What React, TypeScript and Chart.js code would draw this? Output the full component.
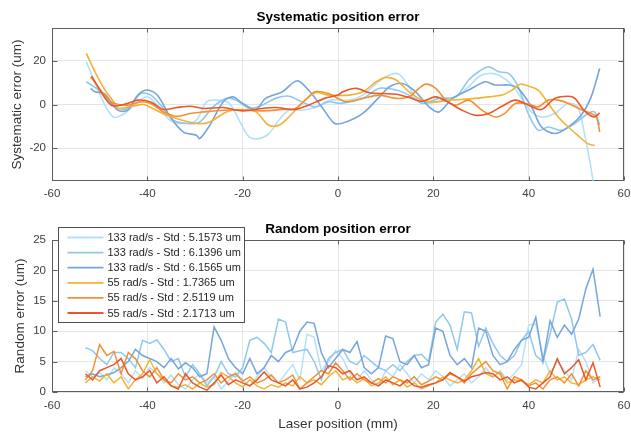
import React, { useEffect, useRef } from 'react';
import { Chart, registerables } from 'chart.js';
Chart.register(...registerables);

const FONT = "'Liberation Sans', Arial, Helvetica, sans-serif";

const seriesLabels = [
  '133 rad/s - Std : 5.1573 um',
  '133 rad/s - Std : 6.1396 um',
  '133 rad/s - Std : 6.1565 um',
  '55 rad/s - Std : 1.7365 um',
  '55 rad/s - Std : 2.5119 um',
  '55 rad/s - Std : 2.1713 um',
];
const seriesColors = ['#b3e1f7', '#90c8ec', '#76a5dc', '#f4b234', '#f39035', '#e9582a'];

const xTicks = [-60, -40, -20, 0, 20, 40, 60];
const sysYTicks = [-20, 0, 20];
const randYTicks = [0, 5, 10, 15, 20, 25];

// ---- Systematic position error ----
const sysX1 = [-52.8,-49.7,-47.2,-44.8,-42,-40,-37.9,-35.2,-32.4,-29.7,-27.6,-25.5,-22.8,-20,-18.6,-16.6,-14.5,-12.4,-10.3,-7.6,-4.8,-1.4,2.4,5.2,8,10.8,12.8,14.9,17,19.1,21.9,24.7,27.4,29.5,31.6,33.7,36.5,38.5,40.6,42.7,45.5,48.3,50.3,51.7,52.8,53.5];
const sysY1 = [19.6,3.5,-5.7,-4.1,1.2,3.5,-0.3,-7.2,-8.7,-7.2,1.2,2,0.5,-10.3,-14.9,-15.6,-13.3,-7.2,-2.6,-2.6,-1.4,2,2,4.3,9.6,13.5,13.9,8.1,1.2,0.5,2,3.5,8.1,12.7,14.2,13.5,8.9,2.8,-3.4,-5.7,-4.1,0.5,-1.1,-13.3,-25.6,-34.8];

const sysX2 = [-52.8,-49.7,-46.9,-44.1,-41.4,-39.3,-37.2,-34.5,-31.7,-29,-26.2,-23.4,-21.4,-18.6,-15.9,-13.1,-10.3,-7.6,-4.8,-2.1,0.7,5.2,8.7,12.2,14.9,17.7,21.2,24.7,27.4,29.5,31.6,33.7,35.8,37.8,39.9,42,44.1,46.9,49.7,52.4,53.8,54.9];
const sysY2 = [10.4,5.8,-1.1,-1.8,5,4.3,-0.3,-7.2,-8.7,-8,-1.1,2.8,2,-1.8,-0.3,2.8,3.8,1.2,-1.1,1.2,0.5,2.8,7.4,6.6,4.3,0.5,2.8,3.5,11.2,15,17.3,15,14.2,8.1,-4.1,-11.8,-10.3,-11.8,-8.7,-4.1,-3.4,-9.5];

const sysX3 = [-51.9,-51,-49,-46.2,-44.1,-42,-40,-37.9,-35.2,-32.4,-29.7,-29,-26.9,-24.1,-22.1,-20,-17.2,-15.2,-11.7,-8.6,-6.2,-3.4,-0.7,1.7,5.2,8.7,10.8,13.5,16.3,19.1,21.2,24,27.4,30.9,33,35.8,37.8,40.6,42.7,45.5,48.3,51,53.1,54.9];
const sysY3 = [7.4,5.8,5,-2.6,-2.6,4.3,6.6,4.3,-5.7,-12.6,-14.1,-15.6,-9.5,1.2,3.5,0.5,-2.3,2.8,5.8,10.9,6.6,-1.1,-8.7,-8,-4.1,3.5,8.1,9.6,5.8,-1.1,-3.4,2.8,6.6,10.4,8.9,8.9,7.4,-1.1,-10.3,-13.3,-10.3,-4.9,3.5,16.5];

const sysX4 = [-52.8,-51,-49,-47,-46.2,-42,-40.7,-35.9,-29.7,-26.9,-23.4,-20,-17.2,-14.5,-12.4,-10.3,-7.6,-4.8,-2.1,2.4,5.2,8,10,12.2,14.9,17.7,20.5,23.3,26,28.8,31.6,34.4,36.5,38.2,40,42,44.1,46.2,48.3,50.3,52.4,53.8];
const sysY4 = [23.4,15,7,1,-1.8,-0.3,0,-4.9,-8.7,-8,-3.4,-2.3,-3.4,-9.5,-9.5,-5.7,0.5,5.4,4.3,4.3,5.8,10.4,12.4,11.2,5.8,2,1.2,2,2.3,2.8,3.5,4.3,6.6,9.3,8.4,6.6,0.5,-5.7,-10.3,-14.1,-17.9,-18.7];

const sysX5 = [-51.9,-47.6,-44.1,-41.4,-39.3,-36.6,-33.8,-31,-28.3,-24.1,-20,-15.9,-11.7,-9,-6.9,-4.8,-2,0,1.7,5.2,8.7,12.2,14.9,17,18.4,20.5,22.6,24.7,27.4,30.2,33,35,37.2,40,42,44.1,46.2,48.3,51,53.1,54.2,54.9];
const sysY5 = [12.7,1.2,-0.3,1.2,0.5,-3.4,-5.4,-4.1,-3.4,-2.6,-2.6,-2.9,-2.3,-1.8,2,5.8,5,2.8,1.2,2.8,4.3,2.8,3.5,7.4,9.3,7.4,2,-0.3,2,-2.6,-5.7,-4.1,0.5,0.2,-1.1,2,2,0.5,-2.3,-4.1,-5.7,-12.6];

const sysX6 = [-51.7,-47.6,-44.1,-42,-39.3,-36.6,-33.8,-31,-28.3,-24.1,-20,-15.9,-13.1,-9,-6.2,-2.8,0,1,3.8,6.6,9.4,12.2,14.9,17.7,20.5,23.3,26,28.8,31.6,34.4,37.2,40,42.7,45.5,48.3,49.7,51.7,53.8,54.9];
const sysY6 = [13,-0.3,0.5,2,1.2,-2.3,-1.4,-0.8,-1.8,-1.4,-2.9,-1.8,-1.4,-2.3,-0.3,2.8,4.3,5.8,7.4,5.4,5,4.7,3.2,1.5,3.5,0.8,-2.6,-4.9,-4.1,-0.8,2,-0.3,-2.3,2.8,3.8,2.8,-2.9,-5.7,-3.8];

// ---- Random position error ----
const randX = [-53,-51.5,-50,-48.5,-47,-45.5,-44,-42.5,-41,-39.5,-38,-36.5,-35,-33.5,-32,-30.5,-29,-27.5,-26,-24.5,-23,-21.5,-20,-18.5,-17,-15.5,-14,-12.5,-11,-9.5,-8,-6.5,-5,-3.5,-2,-0.5,1,2.5,4,5.5,7,8.5,10,11.5,13,14.5,16,17.5,19,20.5,22,23.5,25,26.5,28,29.5,31,32.5,34,35.5,37,38.5,40,41.5,43,44.5,46,47.5,49,50.5,52,53.5,55];
const randY1 = [3.5,2.5,3.2,2,4,3,1.5,3.5,2.2,4,3,1.5,2.8,1.2,0.5,2,3,1.5,2.5,0.5,1.8,3.2,2,1,2.5,4,2.5,1.5,3,4.5,2,9.5,9,3.5,5,6.8,5.5,3,2,3.5,2,1,3.5,2.5,4.5,3,1.5,3,2,3.5,2.5,1,2,3,1.5,2.5,4,2.5,3.5,2,3,4.5,11,11.2,6,3,5,3.5,2,7,5,1.5,2.5];
const randY2 = [7.3,6.8,5.5,4.5,6.5,6.5,5.5,4,8.5,8,8.6,7,5,5.5,2.5,4.5,3,1,2.5,5,3,2.5,4,8.5,9,8,6.5,12,11.5,6.5,6.8,7,5,2,5.5,6.5,7,5,4.5,6,5,4,3.5,4.5,3.5,5,6,6.2,5,11.5,12.8,11,7,13.2,13,7.5,10.5,8,6,5,6,8.5,10,6,5,9.5,14.8,15.3,12,6,6.5,7.8,5.2];
const randY3 = [2.5,3,2.5,2.8,3.2,4,5,7,6,5.5,5,4,5.5,3.8,4.8,4,2.5,3,10.7,8.5,5.5,4,3,5.5,3,4,6,5,6.5,7,10,11.5,11.3,6.5,4,5.5,7,6.5,8.3,4,3,4,9.2,8.8,5,4.5,6,4,4.5,10.5,10,6,4.5,5.5,4,10.5,10,6,4.5,5,7,8.5,9,12.3,5,11.7,9,11,9.5,12,17,20.2,12.4];
const randY4 = [1.5,2.5,1.8,3,1.5,2.5,0.5,2,3,5.3,3,2,1,0.8,1.2,0.5,1.5,0.8,1.2,3.2,2.5,1.5,0.8,2,1,0.5,1.2,0.8,1.5,1,2.5,1.5,2,1.2,2.5,3.5,2,2.5,1.5,2.2,1,1.5,2.5,1.2,2,0.8,1.5,0.5,1,1.5,2.5,2,1.5,2,3.5,5.5,3,2.5,3.3,1.5,2,1.8,1.2,2,1.5,3.5,2,2.5,1.5,1.2,2,2.5,2];
const randY5 = [2,3.5,7.8,6,6.7,3,6.5,5.5,3.5,2.5,4,2,1.5,3,2,2.5,1.5,2,3,1.5,2.5,3,1.8,2.5,1.5,2,2.8,1.5,2,2.8,0.5,1.5,2.5,3.5,3,4.8,3.5,2,3,2,1.5,2.2,1.5,2.5,2,1.5,2.5,1.2,1.8,2.5,2,3,2.5,1.5,3,4,5,3.5,3,0.5,2.5,2,1,1.5,0.5,2,2.5,1.5,3,1,3.5,2,2.5];
const randY6 = [3,2,3.5,4,4.5,5.5,3,2,2.5,3.5,1.5,2.5,1,0.5,3,1.5,0.8,0.3,1.5,2.8,1.2,2,1.5,1,2,3.3,2,1.5,1,2,0.5,0.8,1.5,2.5,4.3,4,3,3.5,2,2.5,1.5,1,2,1.5,1,2,1,0.8,1.2,1.5,2,3.2,2.5,1.8,2.5,2.8,3.2,3,2,2.5,1.5,2,0.8,0.5,1.5,2.5,5.5,3,4,5.3,2,4.8,0.8];

const sysSeries = [
  [sysX1, sysY1], [sysX2, sysY2], [sysX3, sysY3],
  [sysX4, sysY4], [sysX5, sysY5], [sysX6, sysY6],
];
const randSeries = [randY1, randY2, randY3, randY4, randY5, randY6];

const boxPlugin = {
  id: 'matlabBox',
  beforeDatasetsDraw(chart: any) {
    const { ctx, chartArea: a, scales } = chart;
    ctx.save();
    ctx.strokeStyle = '#5f5f5f';
    ctx.lineWidth = 1;
    const l = Math.round(a.left) + 0.5;
    const r = Math.round(a.right) - 0.5;
    const t = Math.round(a.top) + 0.5;
    const b = Math.round(a.bottom) - 0.5;
    ctx.strokeRect(l, t, r - l, b - t);
    ctx.beginPath();
    scales.x.ticks.forEach((tk: any) => {
      const px = Math.round(scales.x.getPixelForValue(tk.value)) + 0.5;
      ctx.moveTo(px, b); ctx.lineTo(px, b - 4);
      ctx.moveTo(px, t); ctx.lineTo(px, t + 4);
    });
    scales.y.ticks.forEach((tk: any) => {
      const py = Math.round(scales.y.getPixelForValue(tk.value)) + 0.5;
      ctx.moveTo(l, py); ctx.lineTo(l + 5, py);
      ctx.moveTo(r, py); ctx.lineTo(r - 5, py);
    });
    ctx.stroke();
    ctx.restore();
  },
};

// Title centred over the plot area, as MATLAB does
const axesTitlePlugin = {
  id: 'axesTitle',
  afterDraw(chart: any, _args: any, opts: any) {
    const { ctx, chartArea: a } = chart;
    ctx.save();
    ctx.font = `bold 13.5px ${FONT}`;
    ctx.fillStyle = '#000000';
    ctx.textAlign = 'center';
    ctx.textBaseline = 'middle';
    ctx.fillText(opts.text, (a.left + a.right) / 2, a.top - opts.gap);
    ctx.restore();
  },
};

const legendPlugin = {
  id: 'matlabLegend',
  afterDraw(chart: any) {
    const { ctx, chartArea: a } = chart;
    const bx = Math.round(a.left) + 6.5;
    const by = Math.round(a.top) - 12.5;
    const bw = 186;
    const bh = 95;
    ctx.save();
    ctx.fillStyle = '#ffffff';
    ctx.fillRect(bx, by, bw, bh);
    ctx.strokeStyle = '#505050';
    ctx.lineWidth = 1;
    ctx.strokeRect(bx, by, bw, bh);
    ctx.font = `11px ${FONT}`;
    ctx.textBaseline = 'middle';
    ctx.textAlign = 'left';
    chart.data.datasets.forEach((ds: any, i: number) => {
      const y = by + 10 + i * 15.1;
      ctx.strokeStyle = ds.borderColor;
      ctx.lineWidth = 1.8;
      ctx.beginPath();
      ctx.moveTo(bx + 9, y);
      ctx.lineTo(bx + 45, y);
      ctx.stroke();
      ctx.fillStyle = '#262626';
      ctx.fillText(ds.label, bx + 49, y + 0.5);
    });
    ctx.restore();
  },
};

function commonOptions(opts: {
  title: string; titleGap: number; topPad: number; yTitle: string; yMin: number; yMax: number;
  yTicks: number[]; yTitlePad: number; xHeight: number; xTickPad: number; xTitle?: string;
}) {
  return {
    responsive: false,
    animation: false,
    maintainAspectRatio: false,
    layout: { padding: { left: 0, right: 7, top: opts.topPad, bottom: 0 } },
    plugins: {
      legend: { display: false },
      tooltip: { enabled: false },
      title: { display: false },
      axesTitle: { text: opts.title, gap: opts.titleGap },
    },
    scales: {
      x: {
        type: 'linear',
        min: -60,
        max: 60,
        afterBuildTicks: (s: any) => { s.ticks = xTicks.map((v) => ({ value: v })); },
        afterFit: (s: any) => {
          s.height = opts.xHeight;
          s.paddingLeft = 0;
          s.paddingRight = 0;
        },
        grid: { color: '#e6e6e6', drawTicks: false },
        border: { display: false },
        ticks: {
          color: '#404040',
          font: { family: FONT, size: 11.5 },
          padding: opts.xTickPad,
          maxRotation: 0,
          autoSkip: false,
        },
        title: opts.xTitle
          ? {
              display: true,
              text: opts.xTitle,
              color: '#333333',
              font: { family: FONT, size: 13.5 },
              padding: { top: 0, bottom: 1 },
            }
          : { display: false },
      },
      y: {
        type: 'linear',
        min: opts.yMin,
        max: opts.yMax,
        afterBuildTicks: (s: any) => { s.ticks = opts.yTicks.map((v) => ({ value: v })); },
        afterFit: (s: any) => {
          s.width = 52;
          s.paddingTop = 0;
          s.paddingBottom = 0;
        },
        grid: { color: '#e6e6e6', drawTicks: false },
        border: { display: false },
        ticks: {
          color: '#404040',
          font: { family: FONT, size: 11.5 },
          padding: 6,
        },
        title: {
          display: true,
          text: opts.yTitle,
          color: '#333333',
          font: { family: FONT, size: 13.5 },
          padding: { top: opts.yTitlePad, bottom: 0 },
        },
      },
    },
  };
}

export default function App() {
  const topRef = useRef<HTMLCanvasElement | null>(null);
  const botRef = useRef<HTMLCanvasElement | null>(null);

  useEffect(() => {
    if (!topRef.current || !botRef.current) return;

    const topChart = new Chart(topRef.current, {
      type: 'line',
      data: {
        datasets: sysSeries.map(([xs, ys], i) => ({
          label: seriesLabels[i],
          data: xs.map((x, k) => ({ x, y: ys[k] })),
          borderColor: seriesColors[i],
          backgroundColor: seriesColors[i],
          borderWidth: 1.6,
          pointRadius: 0,
          tension: 0.3,
          fill: false,
          order: 5 - i,
        })),
      },
      options: commonOptions({
        title: 'Systematic position error',
        titleGap: 11,
        topPad: 28,
        yTitle: 'Systematic error (um)',
        yMin: -35,
        yMax: 35,
        yTicks: sysYTicks,
        yTitlePad: 9,
        xHeight: 34,
        xTickPad: 6,
      }) as any,
      plugins: [boxPlugin, axesTitlePlugin],
    });

    const botChart = new Chart(botRef.current, {
      type: 'line',
      data: {
        datasets: randSeries.map((ys, i) => ({
          label: seriesLabels[i],
          data: randX.map((x, k) => ({ x, y: ys[k] })),
          borderColor: seriesColors[i],
          backgroundColor: seriesColors[i],
          borderWidth: 1.5,
          pointRadius: 0,
          tension: 0,
          fill: false,
          order: 5 - i,
        })),
      },
      options: commonOptions({
        title: 'Random position error',
        titleGap: 10.7,
        topPad: 25,
        yTitle: 'Random error (um)',
        yMin: 0,
        yMax: 25,
        yTicks: randYTicks,
        yTitlePad: 12,
        xHeight: 41,
        xTickPad: 7,
        xTitle: 'Laser position (mm)',
      }) as any,
      plugins: [boxPlugin, axesTitlePlugin, legendPlugin],
    });

    return () => {
      topChart.destroy();
      botChart.destroy();
    };
  }, []);

  return (
    <div style={{ position: 'absolute', left: 0, top: 0, width: 631, height: 433, background: '#ffffff' }}>
      <canvas ref={topRef} width={631} height={215} style={{ display: 'block', width: 631, height: 215 }} />
      <canvas ref={botRef} width={631} height={218} style={{ display: 'block', width: 631, height: 218 }} />
    </div>
  );
}
